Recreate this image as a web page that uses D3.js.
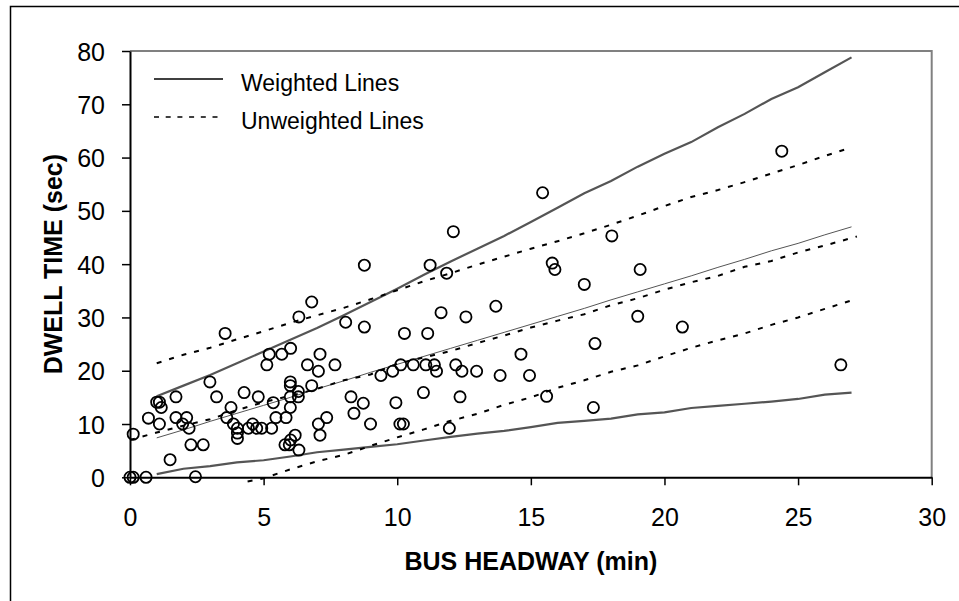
<!DOCTYPE html>
<html>
<head>
<meta charset="utf-8">
<script src="https://cdn.jsdelivr.net/npm/d3@7"></script>
<style>
  body { margin: 0; background: #fff; }
  svg { display: block; font-family: "Liberation Sans", Arial, sans-serif; }
</style>
</head>
<body>
<div id="chart"></div>
<script>
// Observed points: headway (min) / dwell time (sec)
const headway = [
  0, 0.12, 0.6, 2.45, 0.12, 0.69, 1.0, 1.1, 1.17, 1.1, 1.5, 1.72, 1.72, 2.12, 1.97, 2.21,
  2.28, 2.74, 2.99, 3.24, 3.56, 3.62, 3.78, 3.87, 4.02, 4.02, 4.02, 4.27, 4.43, 4.59, 4.74, 4.93,
  4.8, 5.12, 5.21, 5.3, 5.36, 5.46, 5.68, 5.84, 5.8, 5.96, 6.01, 6.0, 6.0, 6.3, 6.0, 6.3,
  6.0, 6.18, 6.01, 6.32, 6.32, 6.64, 6.8, 6.8, 7.05, 7.11, 7.05, 7.36, 7.11, 7.67, 8.07, 8.27,
  8.73, 8.38, 8.77, 8.77, 9.0, 9.39, 9.83, 9.95, 10.1, 10.23, 10.13, 10.6, 11.07, 11.39, 11.47, 12.19,
  12.42, 10.27, 11.14, 10.98, 11.23, 11.64, 11.85, 11.95, 12.1, 12.35, 12.57, 12.97, 13.69, 13.85, 14.63, 14.95,
  15.44, 15.59, 15.8, 15.9, 17.0, 17.34, 17.4, 18.03, 19.0, 19.09, 20.67, 24.39, 26.6
];
const dwell = [
  0, 0, 0, 0.1, 8.1, 11.1, 14.1, 14.1, 13.1, 10.0, 3.3, 15.1, 11.2, 11.2, 10.0, 9.2,
  6.1, 6.1, 17.9, 15.1, 27.0, 11.2, 13.1, 10.0, 9.2, 8.3, 7.3, 15.9, 9.2, 10.0, 9.2, 9.2,
  15.1, 21.1, 23.1, 9.2, 14.0, 11.2, 23.1, 11.2, 6.1, 6.1, 24.2, 17.9, 17.2, 16.1, 15.1, 15.1,
  13.1, 7.9, 7.0, 5.1, 30.1, 21.1, 17.2, 32.9, 19.9, 23.1, 10.0, 11.2, 7.9, 21.1, 29.1, 15.1,
  13.9, 12.0, 28.2, 39.8, 10.0, 19.1, 19.9, 14.0, 10.0, 10.0, 21.1, 21.1, 21.1, 21.1, 19.9, 21.1,
  19.9, 27.0, 27.0, 15.9, 39.8, 30.9, 38.3, 9.2, 46.1, 15.1, 30.1, 19.9, 32.1, 19.1, 23.1, 19.1,
  53.4, 15.2, 40.2, 39.0, 36.2, 13.1, 25.1, 45.3, 30.2, 39.0, 28.2, 61.2, 21.1
];

// Weighted lines (solid)
const weightedX = [1, 2, 3, 4, 5, 6, 7, 8, 9, 10, 11, 12, 13, 14, 15, 16, 17, 18, 19, 20, 21, 22, 23, 24, 25, 26, 27];
const weightedUpper = [15.2, 17.2, 19.2, 21.4, 23.6, 25.8, 28.0, 30.4, 32.9, 35.4, 38.0, 40.5, 42.9, 45.3, 47.9, 50.6, 53.3, 55.6, 58.3, 60.7, 62.9, 65.7, 68.2, 71.0, 73.2, 76.0, 78.8];
const weightedMid   = [7.4, 8.9, 10.5, 12.0, 13.5, 15.0, 16.6, 18.1, 19.7, 21.2, 22.7, 24.2, 25.7, 27.2, 28.7, 30.2, 31.7, 33.3, 34.8, 36.3, 37.8, 39.4, 40.9, 42.5, 43.9, 45.5, 47.0];
const weightedLower = [0.6, 1.6, 2.1, 2.8, 3.2, 3.9, 4.7, 5.2, 5.7, 6.2, 6.9, 7.6, 8.2, 8.7, 9.4, 10.2, 10.6, 11.0, 11.8, 12.2, 13.0, 13.4, 13.8, 14.2, 14.7, 15.5, 15.9];

// Unweighted lines (dashed)
const unwUpperX = [1, 2, 3, 4, 5, 6, 7, 8, 9, 10, 11, 12, 13, 14, 15, 16, 17, 18, 19, 20, 21, 22, 23, 24, 25, 26, 27];
const unwUpper  = [21.4, 23.0, 24.3, 25.9, 27.4, 29.0, 30.4, 31.8, 33.4, 35.1, 36.8, 38.3, 39.9, 41.4, 42.9, 44.3, 45.8, 47.4, 49.1, 50.9, 52.6, 53.9, 55.4, 57.0, 58.6, 60.3, 61.9];
const unwMidX   = [0, 1, 2, 3, 4, 5, 6, 7, 8, 9, 10, 11, 12, 13, 14, 15, 16, 17, 18, 19, 20, 21, 22, 23, 24, 25, 26, 27, 27.2];
const unwMid    = [7.0, 8.4, 9.7, 10.9, 12.6, 14.1, 15.3, 16.6, 18.2, 19.3, 21.3, 22.5, 23.7, 25.2, 26.6, 28.1, 29.4, 30.6, 32.3, 33.6, 35.2, 36.6, 37.8, 39.5, 40.6, 42.2, 43.5, 44.9, 45.2];
const unwLowerX = [4.4, 5, 6, 7, 8, 9, 10, 11, 12, 13, 14, 15, 16, 17, 18, 19, 20, 21, 22, 23, 24, 25, 26, 27];
const unwLower  = [-0.8, -0.2, 1.5, 3.0, 4.2, 5.9, 7.5, 9.0, 10.6, 11.9, 13.6, 15.0, 16.8, 18.2, 19.8, 21.0, 22.7, 24.3, 25.7, 27.0, 28.6, 30.0, 31.6, 33.2];

// Axis ticks
const xTicks = [0, 5, 10, 15, 20, 25, 30];
const yTicks = [0, 10, 20, 30, 40, 50, 60, 70, 80];

const W = 959, H = 601;
const plotLeft = 130, plotRight = 931.7, plotTop = 51, plotBottom = 477.3;

const svg = d3.select("#chart").append("svg")
  .attr("width", W)
  .attr("height", H);

// outer frame
svg.append("rect")
  .attr("x", 10.5).attr("y", 6.5)
  .attr("width", 1000).attr("height", 1000)
  .attr("fill", "none")
  .attr("stroke", "#000")
  .attr("stroke-width", 1.5);

const x = d3.scaleLinear().domain([0, 30]).range([plotLeft, plotRight]);
const y = d3.scaleLinear().domain([0, 80]).range([plotBottom, plotTop]);

// plot frame (top + right, gray)
svg.append("path")
  .attr("d", `M${plotLeft},${plotTop}H${plotRight}V${plotBottom}`)
  .attr("fill", "none")
  .attr("stroke", "#808080")
  .attr("stroke-width", 2);

// axes
const xAxis = svg.append("g")
  .attr("transform", `translate(0,${plotBottom})`)
  .call(d3.axisBottom(x).tickValues(xTicks).tickSize(8).tickSizeOuter(0).tickPadding(23));

const yAxis = svg.append("g")
  .attr("transform", `translate(${plotLeft},0)`)
  .call(d3.axisLeft(y).tickValues(yTicks).tickSize(8).tickSizeOuter(0).tickPadding(17));

[xAxis, yAxis].forEach(ax => {
  ax.select(".domain").attr("stroke", "#000").attr("stroke-width", 2);
  ax.selectAll(".tick line").attr("stroke", "#000").attr("stroke-width", 1.5);
  ax.selectAll(".tick text")
    .attr("fill", "#000")
    .style("font-family", "'Liberation Sans', Arial, sans-serif")
    .style("font-size", "25px");
});
yAxis.selectAll(".tick text").attr("dy", "0.36em");

// lines
function drawLine(xs, ys, opts) {
  const pts = xs.map((d, i) => [d, ys[i]]);
  const gen = d3.line().x(d => x(d[0])).y(d => y(d[1]));
  svg.append("path")
    .datum(pts)
    .attr("fill", "none")
    .attr("stroke", opts.color)
    .attr("stroke-width", opts.width)
    .attr("stroke-dasharray", opts.dash || null)
    .attr("d", gen);
}

drawLine(weightedX, weightedUpper, { color: "#555", width: 2.2 });
drawLine(weightedX, weightedMid,   { color: "#555", width: 1 });
drawLine(weightedX, weightedLower, { color: "#555", width: 2.2 });

drawLine(unwUpperX, unwUpper, { color: "#000", width: 2, dash: "5,8" });
drawLine(unwMidX,   unwMid,   { color: "#000", width: 2, dash: "5,8" });
drawLine(unwLowerX, unwLower, { color: "#000", width: 2, dash: "5,8" });

// points
svg.append("g")
  .selectAll("circle")
  .data(headway.map((d, i) => ({ h: d, t: dwell[i] })))
  .enter()
  .append("circle")
    .attr("cx", d => x(d.h))
    .attr("cy", d => y(d.t))
    .attr("r", 5.6)
    .attr("fill", "none")
    .attr("stroke", "#000")
    .attr("stroke-width", 1.8);

// legend
const legend = svg.append("g");
legend.append("line")
  .attr("x1", 154).attr("x2", 223).attr("y1", 79).attr("y2", 79)
  .attr("stroke", "#000").attr("stroke-width", 1.5);
legend.append("line")
  .attr("x1", 154).attr("x2", 223).attr("y1", 117).attr("y2", 117)
  .attr("stroke", "#000").attr("stroke-width", 1.5)
  .attr("stroke-dasharray", "5,6.7");
legend.append("text")
  .attr("x", 241).attr("y", 91)
  .style("font-size", "23px")
  .text("Weighted Lines");
legend.append("text")
  .attr("x", 241).attr("y", 128.5)
  .style("font-size", "23px")
  .text("Unweighted Lines");

// axis titles
svg.append("text")
  .attr("x", (plotLeft + plotRight) / 2)
  .attr("y", 570)
  .attr("text-anchor", "middle")
  .style("font-size", "25px")
  .style("font-weight", "bold")
  .text("BUS HEADWAY (min)");

svg.append("text")
  .attr("transform", `translate(62,${(plotTop + plotBottom) / 2}) rotate(-90)`)
  .attr("text-anchor", "middle")
  .style("font-size", "25px")
  .style("font-weight", "bold")
  .text("DWELL TIME (sec)");
</script>
</body>
</html>
